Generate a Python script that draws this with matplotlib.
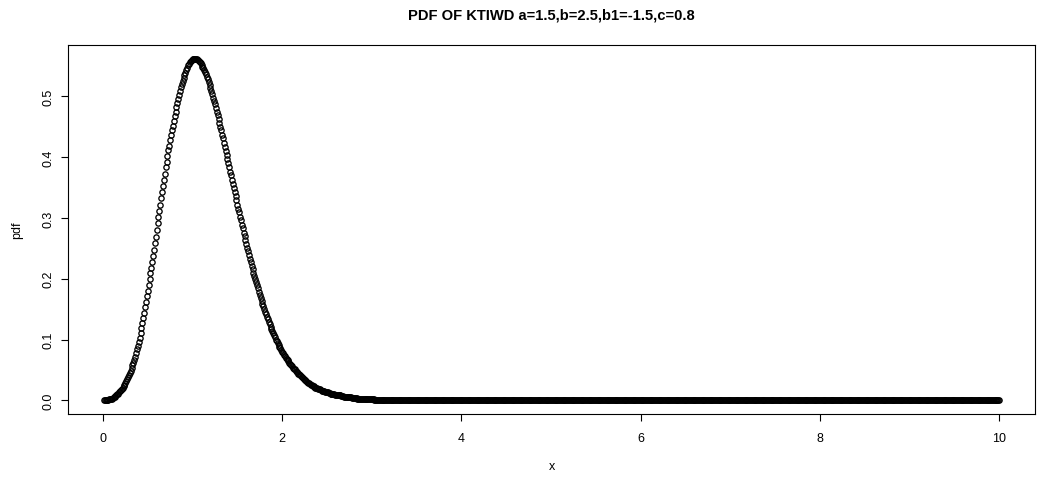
import numpy as np
import matplotlib
matplotlib.use("Agg")
import matplotlib.pyplot as plt

# sample grid used for the curve: 0.01, 0.02, ..., 10.00
x_start = 0.01
x_step = 0.01
n_points = 1000

# pdf values for x = 0.01 .. 3.20 (step 0.01)
pdf_head = [
    0.000, 0.000, 0.001, 0.001, 0.001, 0.001, 0.002, 0.002, 0.003, 0.003,
    0.004, 0.005, 0.006, 0.007, 0.008, 0.010, 0.011, 0.013, 0.015, 0.017,
    0.019, 0.021, 0.024, 0.026, 0.029, 0.032, 0.035, 0.038, 0.041, 0.045,
    0.049, 0.053, 0.058, 0.062, 0.067, 0.072, 0.078, 0.084, 0.090, 0.096,
    0.103, 0.111, 0.119, 0.127, 0.135, 0.144, 0.153, 0.162, 0.171, 0.180,
    0.189, 0.199, 0.209, 0.218, 0.228, 0.238, 0.248, 0.259, 0.269, 0.280,
    0.291, 0.301, 0.312, 0.322, 0.333, 0.343, 0.353, 0.363, 0.373, 0.383,
    0.392, 0.402, 0.411, 0.419, 0.428, 0.436, 0.444, 0.452, 0.460, 0.468,
    0.475, 0.482, 0.489, 0.496, 0.503, 0.509, 0.515, 0.520, 0.526, 0.531,
    0.535, 0.539, 0.543, 0.547, 0.551, 0.553, 0.556, 0.558, 0.560, 0.561,
    0.562, 0.562, 0.562, 0.562, 0.561, 0.560, 0.558, 0.557, 0.555, 0.552,
    0.549, 0.546, 0.543, 0.540, 0.536, 0.532, 0.528, 0.523, 0.519, 0.514,
    0.509, 0.504, 0.498, 0.493, 0.487, 0.481, 0.475, 0.469, 0.463, 0.457,
    0.450, 0.444, 0.437, 0.431, 0.424, 0.417, 0.410, 0.404, 0.397, 0.390,
    0.383, 0.376, 0.370, 0.363, 0.356, 0.349, 0.342, 0.336, 0.329, 0.322,
    0.315, 0.309, 0.302, 0.296, 0.289, 0.283, 0.276, 0.270, 0.263, 0.257,
    0.251, 0.245, 0.239, 0.233, 0.227, 0.221, 0.216, 0.210, 0.205, 0.199,
    0.194, 0.189, 0.184, 0.178, 0.173, 0.168, 0.164, 0.159, 0.155, 0.150,
    0.146, 0.142, 0.137, 0.133, 0.129, 0.125, 0.121, 0.118, 0.114, 0.110,
    0.107, 0.104, 0.100, 0.097, 0.094, 0.091, 0.088, 0.086, 0.083, 0.080,
    0.078, 0.075, 0.073, 0.070, 0.068, 0.066, 0.064, 0.062, 0.060, 0.058,
    0.056, 0.054, 0.052, 0.051, 0.049, 0.047, 0.046, 0.044, 0.043, 0.041,
    0.040, 0.038, 0.037, 0.035, 0.034, 0.033, 0.032, 0.030, 0.029, 0.028,
    0.027, 0.026, 0.025, 0.024, 0.023, 0.022, 0.021, 0.021, 0.020, 0.019,
    0.018, 0.018, 0.017, 0.016, 0.016, 0.015, 0.015, 0.014, 0.014, 0.013,
    0.013, 0.012, 0.012, 0.011, 0.011, 0.011, 0.010, 0.010, 0.009, 0.009,
    0.009, 0.008, 0.008, 0.008, 0.008, 0.007, 0.007, 0.007, 0.006, 0.006,
    0.006, 0.006, 0.005, 0.005, 0.005, 0.005, 0.005, 0.004, 0.004, 0.004,
    0.004, 0.004, 0.004, 0.003, 0.003, 0.003, 0.003, 0.003, 0.003, 0.003,
    0.003, 0.002, 0.002, 0.002, 0.002, 0.002, 0.002, 0.002, 0.002, 0.002,
    0.002, 0.002, 0.001, 0.001, 0.001, 0.001, 0.001, 0.001, 0.001, 0.001,
    0.001, 0.001, 0.001, 0.001, 0.001, 0.001, 0.001, 0.001, 0.001, 0.001,
]
# from x = 3.21 on the curve sits on zero
pdf_tail = [0.0] * (n_points - len(pdf_head))

x_ticks = [0, 2, 4, 6, 8, 10]
y_ticks = [0.0, 0.1, 0.2, 0.3, 0.4, 0.5]
y_tick_labels = ["0.0", "0.1", "0.2", "0.3", "0.4", "0.5"]

x = np.round(x_start + x_step * np.arange(n_points), 2)
pdf = np.array(pdf_head + pdf_tail)

plt.rcParams["font.family"] = ["Liberation Sans", "DejaVu Sans"]

fig = plt.figure(figsize=(10.49, 4.85), dpi=100)
ax = fig.add_axes([68 / 1049, 1 - 415 / 485, (1035 - 68) / 1049, (415 - 46) / 485])

ax.plot(x, pdf, linestyle="none", marker="o", markersize=3.8,
        markerfacecolor="none", markeredgecolor="black", markeredgewidth=0.95)

# R style 4% padding on both axes
xr = x.max() - x.min()
yr = pdf.max() - pdf.min()
ax.set_xlim(x.min() - 0.04 * xr, x.max() + 0.04 * xr)
ax.set_ylim(pdf.min() - 0.04 * yr, pdf.max() + 0.04 * yr)

ax.set_xticks(x_ticks)
ax.set_xticklabels([str(t) for t in x_ticks])
ax.set_yticks(y_ticks)
ax.set_yticklabels(y_tick_labels, rotation=90, va="center")
ax.tick_params(axis="x", length=5, width=0.8, pad=8, labelsize=9)
ax.tick_params(axis="y", length=5, width=0.8, pad=5, labelsize=9)
for s in ax.spines.values():
    s.set_linewidth(0.8)

fig.text((68 + 1035) / 2 / 1049, 1 - 15 / 485, "PDF OF KTIWD a=1.5,b=2.5,b1=-1.5,c=0.8",
         ha="center", va="center", fontsize=10.6, fontweight="bold")
fig.text((68 + 1035) / 2 / 1049, 1 - 467 / 485, "x", ha="center", va="center", fontsize=9)
fig.text(17 / 1049, 1 - 230 / 485, "pdf", ha="center", va="center", fontsize=9, rotation=90)

fig.savefig("out.png", dpi=100)
